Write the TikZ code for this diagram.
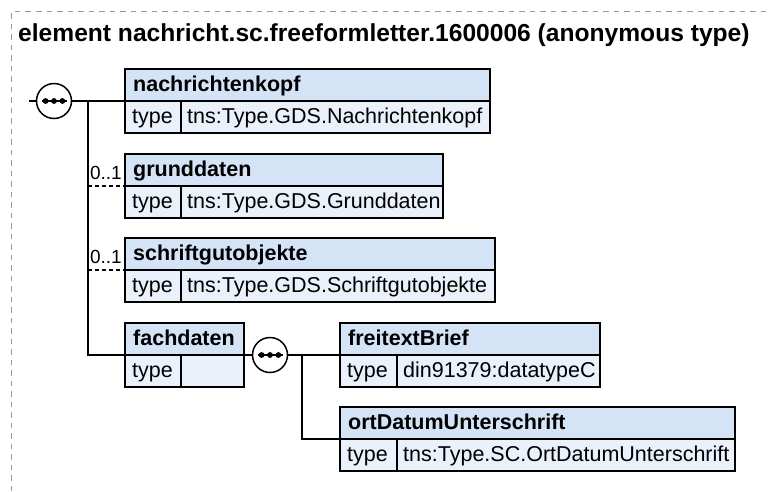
\documentclass[tikz,border=0pt]{standalone}
\usepackage{fontspec}
\setmainfont{Liberation Sans}
\definecolor{hdrfill}{HTML}{D5E3F7}
\definecolor{typefill}{HTML}{EAF1FB}
\definecolor{framegray}{HTML}{999999}
\newcommand\elbox[7]{%
  \node[hrow, minimum width=#4pt] (#1) at (#2,#3) {};
  \node[trow, minimum width=#5pt] (#1t) at (#1.south west) {};
  \node[trow, minimum width={#4pt-#5pt}] (#1v) at (#1t.north east) {};
  \node[htxt] (#1n) at ([xshift=8pt,yshift=-6pt]#1.west) {#6};
  \node[ttxt] (#1tl) at ([xshift=7pt,yshift=-6pt]#1t.west) {type};
  \node[ttxt] (#1tv) at ([xshift=6pt,yshift=-6pt]#1v.west) {#7};
}
\newcommand\seqdots[1]{%
  \draw[line width=1.5pt] ([xshift=-12.5pt]#1.center) -- ([xshift=12.5pt]#1.center);
  \fill ([xshift=-8.4pt]#1.center) circle (2.9pt);
  \fill (#1.center) circle (2.9pt);
  \fill ([xshift=8.4pt]#1.center) circle (2.9pt);
}
\begin{document}
\begin{tikzpicture}[x=1pt,y=-1pt,
  frame/.style={draw=framegray, line width=1pt, dash pattern=on 5.5pt off 5pt},
  hrow/.style={draw, line width=1.5pt, fill=hdrfill, minimum height=32pt, inner sep=0pt, outer sep=0pt, anchor=north west},
  trow/.style={draw, line width=1.5pt, fill=typefill, minimum height=32pt, inner sep=0pt, outer sep=0pt, anchor=north west},
  htxt/.style={font=\fontsize{21.5}{25}\selectfont\bfseries, inner sep=0pt, anchor=base west},
  ttxt/.style={font=\fontsize{21.5}{25}\selectfont, inner sep=0pt, anchor=base west},
  mult/.style={font=\fontsize{19}{22}\selectfont, inner sep=0pt, anchor=base east},
  seq/.style={circle, draw, line width=1.5pt, fill=white, minimum size=35pt, inner sep=0pt},
  conn/.style={line width=1.5pt},
  opt/.style={line width=1.5pt, dash pattern=on 4pt off 3pt}]
\useasboundingbox (0,0) rectangle (769,491);
\draw[frame] (11.5,491) -- (11.5,11.5) -- (769,11.5);
\node[font=\fontsize{24.6}{28}\selectfont\bfseries, anchor=base west, inner sep=0pt] (title) at (18,41.5) {element nachricht.sc.freeformletter.1600006 (anonymous type)};

\elbox{b1}{125}{69}{365}{56}{nachrichtenkopf}{tns:Type.GDS.Nachrichtenkopf}
\elbox{b2}{125}{154}{318}{56}{grunddaten}{tns:Type.GDS.Grunddaten}
\elbox{b3}{125}{238}{370}{56}{schriftgutobjekte}{tns:Type.GDS.Schriftgutobjekte}
\elbox{b4}{125}{323}{119}{56}{fachdaten}{}
\elbox{b5}{340}{323}{260}{57}{freitextBrief}{din91379:datatypeC}
\elbox{b6}{340}{407}{395}{57}{ortDatumUnterschrift}{tns:Type.SC.OrtDatumUnterschrift}

\node[seq] (c1) at (54,101) {};
\node[seq] (c2) at (270,355) {};
\seqdots{c1}
\seqdots{c2}

\coordinate (start) at (29,101);
\coordinate (j1) at (88,101);
\coordinate (j2) at (302,355);
\draw[conn] (start) -- (c1.west);
\draw[conn] (c1.east) -- (b1.south west);
\draw[conn] (j1) -- (j1 |- b4.south west) -- (b4.south west);
\draw[opt] (j1 |- b2.south west) -- (b2.south west);
\draw[opt] (j1 |- b3.south west) -- (b3.south west);
\node[mult] (m2) at ([xshift=-3pt,yshift=7pt]b2.south west) {0..1};
\node[mult] (m3) at ([xshift=-3pt,yshift=7pt]b3.south west) {0..1};
\draw[conn] (b4.south east) -- (c2.west);
\draw[conn] (c2.east) -- (b5.south west);
\draw[conn] (j2) -- (j2 |- b6.south west) -- (b6.south west);
\end{tikzpicture}
\end{document}
